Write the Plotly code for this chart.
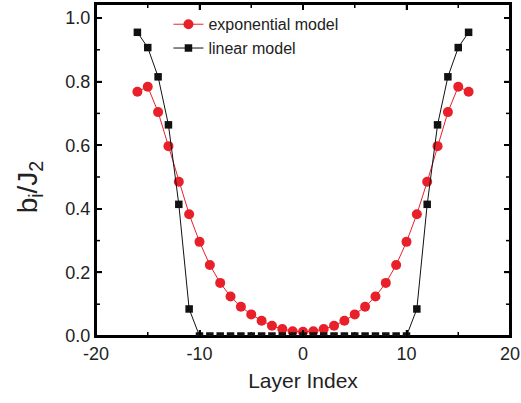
import plotly.graph_objects as go

layers = list(range(-16, 17))
exp_half = [0.768, 0.784, 0.704, 0.597, 0.485, 0.383, 0.296, 0.223, 0.167, 0.124,
            0.092, 0.068, 0.048, 0.032, 0.022, 0.015, 0.013]
lin_half = [0.955, 0.907, 0.815, 0.664, 0.414, 0.085, 0.0, 0.0, 0.0, 0.0,
            0.0, 0.0, 0.0, 0.0, 0.0, 0.0, 0.0]
exp_model = exp_half + exp_half[-2::-1]
lin_model = lin_half + lin_half[-2::-1]
x_ticks = [-20, -10, 0, 10, 20]
x_tick_labels = ["-20", "-10", "0", "10", "20"]
x_minor_ticks = [-15, -5, 5, 15]
y_ticks = [0, 0.2, 0.4, 0.6, 0.8, 1.0]
y_tick_labels = ["0.0", "0.2", "0.4", "0.6", "0.8", "1.0"]
y_minor_ticks = [0.1, 0.3, 0.5, 0.7, 0.9]
x_range = [-20, 20]
y_range = [0, 1.044]

W, H = 521, 403
M = dict(l=96, r=11, t=4, b=67)
font_family = "Liberation Sans, Arial, sans-serif"

# pixel -> data conversion for frame tick lengths
px_x = (x_range[1] - x_range[0]) / (W - M["l"] - M["r"])
px_y = (y_range[1] - y_range[0]) / (H - M["t"] - M["b"])

fig = go.Figure()

# frame (box around the plot area)
fig.add_trace(go.Scatter(
    x=[x_range[0], x_range[1], x_range[1], x_range[0], x_range[0]],
    y=[y_range[0], y_range[0], y_range[1], y_range[1], y_range[0]],
    mode="lines", line=dict(color="black", width=2), showlegend=False,
    hoverinfo="skip", cliponaxis=False))

# tick marks on all four sides, pointing inward
tx, ty = [], []
for vals, ln in ((x_ticks, 6), (x_minor_ticks, 4)):
    for v in vals:
        tx += [v, v, None, v, v, None]
        ty += [y_range[0], y_range[0] + ln * px_y, None,
               y_range[1], y_range[1] - ln * px_y, None]
for vals, ln in ((y_ticks, 6), (y_minor_ticks, 4)):
    for v in vals:
        tx += [x_range[0], x_range[0] + ln * px_x, None,
               x_range[1], x_range[1] - ln * px_x, None]
        ty += [v, v, None, v, v, None]
fig.add_trace(go.Scatter(x=tx, y=ty, mode="lines", line=dict(color="black", width=1.5),
                         showlegend=False, hoverinfo="skip", cliponaxis=False))

fig.add_trace(go.Scatter(
    x=layers, y=exp_model, mode="lines+markers", name="exponential model",
    line=dict(color="#e8202a", width=1),
    marker=dict(symbol="circle", size=10, color="#e8202a")))
fig.add_trace(go.Scatter(
    x=layers, y=lin_model, mode="lines+markers", name="linear model",
    line=dict(color="#111111", width=1),
    marker=dict(symbol="square", size=7.5, color="#111111")))

axis_common = dict(
    showline=True, linecolor="black", linewidth=2, mirror="allticks",
    ticks="inside", ticklen=6, tickwidth=1.5, tickcolor="black",
    showgrid=False, zeroline=False, automargin=False,
    tickfont=dict(family=font_family, size=18, color="#222"),
)

fig.update_layout(
    width=W, height=H,
    margin=M,
    paper_bgcolor="white", plot_bgcolor="white",
    font=dict(family=font_family, color="#222"),
    showlegend=True,
    legend=dict(x=0.175, y=0.99, xanchor="left", yanchor="top",
                bgcolor="rgba(0,0,0,0)", font=dict(size=16, family=font_family),
                tracegroupgap=0, itemwidth=30),
    xaxis=dict(range=x_range, tickmode="array", tickvals=x_ticks, ticktext=x_tick_labels,
               title=dict(text="Layer Index", font=dict(size=21), standoff=11),
               **axis_common),
    yaxis=dict(range=y_range, tickmode="array", tickvals=y_ticks, ticktext=y_tick_labels,
               **axis_common),
    annotations=[dict(text="b<sub>i</sub>/J<sub>2</sub>", textangle=-90,
                      xref="paper", yref="paper", x=-0.16, y=0.45,
                      xanchor="center", yanchor="middle", showarrow=False,
                      font=dict(size=28, family=font_family, color="#222"))],
)

fig.write_html("out.html", config={"displayModeBar": False},
               post_script="document.body.style.margin='0';document.body.style.overflow='hidden';")
